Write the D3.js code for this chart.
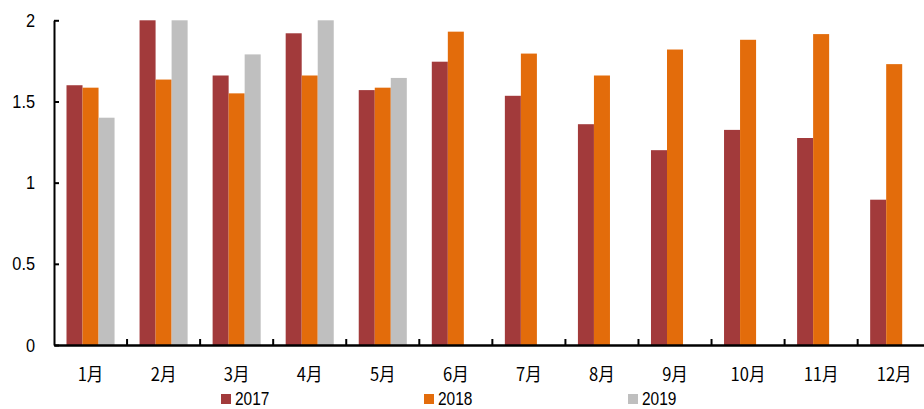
<!DOCTYPE html>
<html><head><meta charset="utf-8">
<script src="https://cdn.jsdelivr.net/npm/d3@7"></script>
<style>body{margin:0;background:#fff}svg{display:block}</style>
</head><body>
<svg id="c" width="924" height="409"></svg>
<script>
const months = ["1月","2月","3月","4月","5月","6月","7月","8月","9月","10月","11月","12月"];
const seriesNames = ["2017","2018","2019"];
const v2017 = [1.60,2.00,1.66,1.92,1.57,1.745,1.535,1.36,1.20,1.325,1.275,0.895];
const v2018 = [1.585,1.635,1.55,1.66,1.585,1.93,1.795,1.66,1.82,1.88,1.915,1.73];
const v2019 = [1.40,2.00,1.79,2.00,1.645,null,null,null,null,null,null,null];
const yTicks = [0,0.5,1,1.5,2];
const colors = ["#A23A3B","#E36C0B","#BFBFBF"];

const numFont = "'Liberation Sans', Arial, sans-serif";
const sx = 0.86;
const svg = d3.select("#c");
const x0 = 54, x1 = 54 + 12*73.06, yTop = 20.3, yBot = 345;
const x = d3.scaleBand().domain(months).range([x0, x1]).paddingInner(0).paddingOuter(0);
const xs = d3.scaleBand().domain(seriesNames).range([12.5, 73.06-12.5]);
const y = d3.scaleLinear().domain([0,2]).range([yBot, yTop]);
const data = [v2017, v2018, v2019];

const g = svg.append("g");
seriesNames.forEach((s, si) => {
  g.selectAll(".b"+si).data(months.map((m,i)=>({m, v:data[si][i]})).filter(d=>d.v!=null))
    .enter().append("rect")
    .attr("x", d => x(d.m) + xs(s))
    .attr("width", xs.bandwidth())
    .attr("y", d => y(d.v))
    .attr("height", d => y(0) - y(d.v))
    .attr("fill", colors[si]);
});

// y axis
const ya = svg.append("g").attr("transform", `translate(${x0},0)`)
  .call(d3.axisLeft(y).tickValues(yTicks).tickFormat(d3.format("")).tickSizeInner(-5).tickSizeOuter(0).tickPadding(19));
ya.select(".domain").attr("stroke","#000").attr("stroke-width",2);
ya.selectAll(".tick line").attr("stroke","#000").attr("stroke-width",2);
ya.selectAll("text").attr("font-family",numFont).attr("font-size","19px").attr("fill","#000")
  .attr("x", -19/sx).attr("transform", `scale(${sx},1)`);

// x axis
const xa = svg.append("g").attr("transform", `translate(0,${yBot})`)
  .call(d3.axisBottom(x).tickSize(0).tickPadding(23));
xa.select(".domain").attr("stroke","#000").attr("stroke-width",2.4);
xa.selectAll("text").attr("font-family","'Noto Sans CJK SC', sans-serif").attr("font-size","18px").attr("fill","#000")
  .attr("transform", `scale(0.92,1)`);
// category boundary ticks (inward)
svg.append("g").selectAll("line").data(months.slice(1)).enter().append("line")
  .attr("x1", d => x(d)).attr("x2", d => x(d))
  .attr("y1", yBot).attr("y2", yBot-6)
  .attr("stroke","#000").attr("stroke-width",2);

// legend
const legX = [221, 424, 628];
const lg = svg.append("g");
seriesNames.forEach((s,i)=>{
  lg.append("rect").attr("x", legX[i]).attr("y", 394).attr("width",10).attr("height",10).attr("fill",colors[i]);
  lg.append("text").attr("transform", `translate(${legX[i]+14},405) scale(${sx},1)`).text(s)
    .attr("font-family",numFont).attr("font-size","18px").attr("fill","#000");
});
</script>
</body></html>
